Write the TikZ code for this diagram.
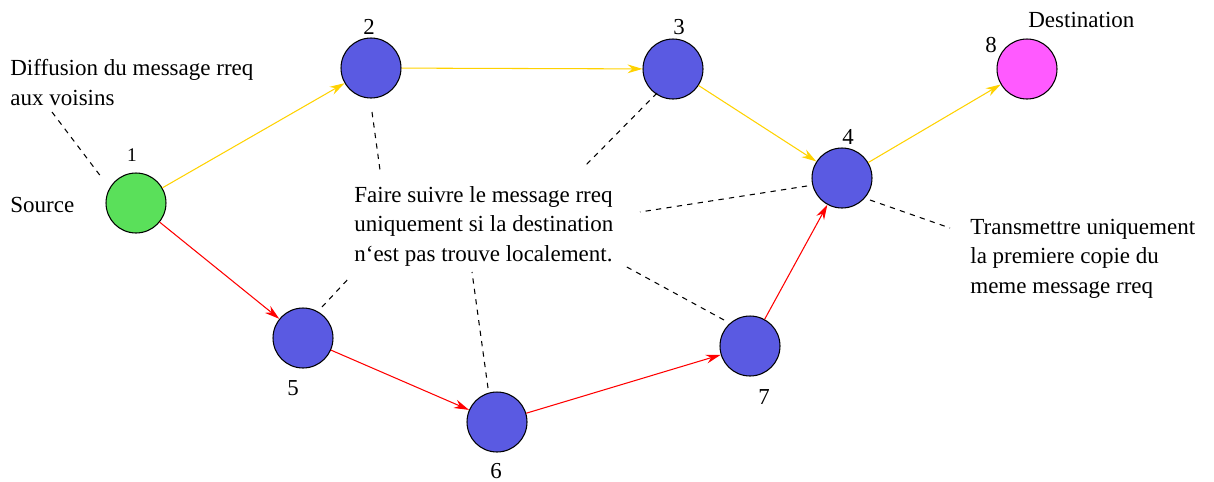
\documentclass[tikz,border=0pt]{standalone}
\usepackage{fontspec}
\setmainfont{Liberation Serif}
\usetikzlibrary{arrows.meta}
\definecolor{nblue}{RGB}{90,90,226}
\definecolor{ngreen}{RGB}{90,224,90}
\definecolor{nmag}{RGB}{255,90,255}
\definecolor{eyel}{RGB}{255,210,0}
\begin{document}
\begin{tikzpicture}[x=0.02cm,y=-0.02cm,
  netnode/.style={circle,draw=black,line width=0.6pt,minimum size=1.2cm,inner sep=0pt},
  numlbl/.style={font=\fontsize{13}{15}\selectfont,inner sep=0pt},
  txt/.style={font=\fontsize{13.1}{16.6}\selectfont,align=left,inner sep=0pt,anchor=base west},
  yedge/.style={draw=eyel,line width=0.6pt,-{Stealth[length=8.5pt,width=5pt]}},
  redge/.style={draw=red,line width=0.6pt,-{Stealth[length=8.5pt,width=5pt]}},
  annot/.style={draw=black,line width=0.6pt,dash pattern=on 3pt off 3pt}]
\useasboundingbox (0,0) rectangle (1214,481);
% nodes
\node[netnode,fill=ngreen] (n1) at (136,203) {};
\node[netnode,fill=nblue] (n2) at (371,68) {};
\node[netnode,fill=nblue] (n3) at (673,69) {};
\node[netnode,fill=nblue] (n4) at (842,178) {};
\node[netnode,fill=nmag] (n8) at (1027,69) {};
\node[netnode,fill=nblue] (n5) at (303,338) {};
\node[netnode,fill=nblue] (n6) at (497,422) {};
\node[netnode,fill=nblue] (n7) at (750,346) {};
% number labels
\node[numlbl,font=\fontsize{11}{13}\selectfont] (l1) at (132,155) {1};
\node[numlbl] (l2) at (369,27) {2};
\node[numlbl] (l3) at (679,27) {3};
\node[numlbl] (l4) at (848,137) {4};
\node[numlbl] (l8) at (991,45) {8};
\node[numlbl] (l5) at (293,388) {5};
\node[numlbl] (l6) at (496,471) {6};
\node[numlbl] (l7) at (764,397) {7};
% texts
\node[txt] (tdest) at (1028,27) {Destination};
\node[txt] (tsrc) at (10,212) {Source};
\node[txt] (tdiff) at (10,105) {Diffusion du message rreq\\aux voisins};
\node[txt] (tfaire) at (354,261) {Faire suivre le message rreq\\uniquement si la destination\\n`est pas trouve localement.};
\node[txt] (ttrans) at (970,293) {Transmettre uniquement\\la premiere copie du\\meme message rreq};
% edges
\draw[yedge] (n1) -- (n2);
\draw[yedge] (n2) -- (n3);
\draw[yedge] (n3) -- (n4);
\draw[yedge] (n4) -- (n8);
\draw[redge] (n1) -- (n5);
\draw[redge] (n5) -- (n6);
\draw[redge] (n6) -- (n7);
\draw[redge] (n7) -- (n4);
% annotation dashed lines
\coordinate (a1s) at (52,112); \coordinate (a1e) at (102,178);
\coordinate (a2s) at (372,112); \coordinate (a2e) at (380,170);
\coordinate (a3s) at (657,93); \coordinate (a3e) at (586,165);
\coordinate (a4s) at (807,186); \coordinate (a4e) at (640,212);
\coordinate (a5s) at (322,307); \coordinate (a5e) at (350,277);
\coordinate (a6s) at (488,388); \coordinate (a6e) at (472,272);
\coordinate (a7s) at (724,320); \coordinate (a7e) at (625,266);
\coordinate (a8s) at (870,200); \coordinate (a8e) at (950,228);
\draw[annot] (a1s) -- (a1e);
\draw[annot] (a2s) -- (a2e);
\draw[annot] (a3s) -- (a3e);
\draw[annot] (a4s) -- (a4e);
\draw[annot] (a5s) -- (a5e);
\draw[annot] (a6s) -- (a6e);
\draw[annot] (a7s) -- (a7e);
\draw[annot] (a8s) -- (a8e);
\end{tikzpicture}
\end{document}
